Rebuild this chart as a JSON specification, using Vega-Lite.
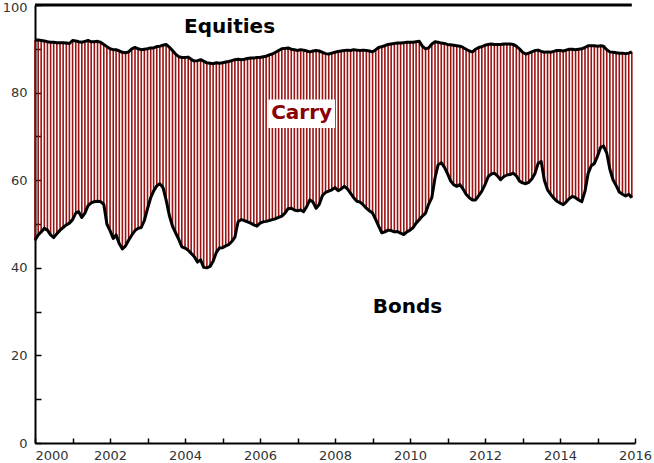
{
  "$schema": "https://vega.github.io/schema/vega-lite/v6.json",
  "width": 600,
  "height": 438,
  "autosize": {"type": "none"},
  "padding": {"left": 35, "top": 5, "right": 19, "bottom": 20},
  "background": "white",
  "config": {
    "view": {"stroke": null},
    "axis": {"grid": false, "labelFont": "DejaVu Sans", "labelFontSize": 13, "labelColor": "#333333", "domainColor": "#000000", "domainWidth": 2, "tickColor": "#000000", "tickWidth": 1.5, "title": null}
  },
  "datasets": {
    "series": [
      {"d":"2000-01-01","lo":46.3,"hi":92.0},{"d":"2000-02-01","lo":47.5,"hi":92.0},{"d":"2000-03-01","lo":48.2,"hi":91.9},{"d":"2000-04-01","lo":49.0,"hi":91.8},{"d":"2000-05-01","lo":48.6,"hi":91.6},{"d":"2000-06-01","lo":47.5,"hi":91.5},{"d":"2000-07-01","lo":46.9,"hi":91.5},{"d":"2000-08-01","lo":47.8,"hi":91.4},{"d":"2000-09-01","lo":48.6,"hi":91.4},{"d":"2000-10-01","lo":49.2,"hi":91.4},{"d":"2000-11-01","lo":49.8,"hi":91.3},{"d":"2000-12-01","lo":50.2,"hi":91.2},
      {"d":"2001-01-01","lo":51.0,"hi":91.9},{"d":"2001-02-01","lo":52.5,"hi":91.8},{"d":"2001-03-01","lo":52.8,"hi":91.6},{"d":"2001-04-01","lo":51.5,"hi":91.5},{"d":"2001-05-01","lo":52.5,"hi":91.7},{"d":"2001-06-01","lo":54.2,"hi":91.9},{"d":"2001-07-01","lo":54.8,"hi":91.6},{"d":"2001-08-01","lo":55.1,"hi":91.6},{"d":"2001-09-01","lo":55.2,"hi":91.7},{"d":"2001-10-01","lo":55.1,"hi":91.5},{"d":"2001-11-01","lo":54.5,"hi":91.0},{"d":"2001-12-01","lo":50.0,"hi":90.5},
      {"d":"2002-01-01","lo":48.5,"hi":90.0},{"d":"2002-02-01","lo":46.7,"hi":89.8},{"d":"2002-03-01","lo":47.5,"hi":89.8},{"d":"2002-04-01","lo":45.5,"hi":89.5},{"d":"2002-05-01","lo":44.3,"hi":89.2},{"d":"2002-06-01","lo":45.0,"hi":89.1},{"d":"2002-07-01","lo":46.3,"hi":89.3},{"d":"2002-08-01","lo":47.5,"hi":90.0},{"d":"2002-09-01","lo":48.5,"hi":90.3},{"d":"2002-10-01","lo":49.0,"hi":90.0},{"d":"2002-11-01","lo":49.2,"hi":89.8},{"d":"2002-12-01","lo":50.8,"hi":89.9},
      {"d":"2003-01-01","lo":53.5,"hi":90.0},{"d":"2003-02-01","lo":56.0,"hi":90.2},{"d":"2003-03-01","lo":57.5,"hi":90.2},{"d":"2003-04-01","lo":58.7,"hi":90.5},{"d":"2003-05-01","lo":59.2,"hi":90.6},{"d":"2003-06-01","lo":58.3,"hi":90.8},{"d":"2003-07-01","lo":55.5,"hi":91.0},{"d":"2003-08-01","lo":52.0,"hi":90.4},{"d":"2003-09-01","lo":49.5,"hi":89.6},{"d":"2003-10-01","lo":48.0,"hi":88.8},{"d":"2003-11-01","lo":46.5,"hi":88.2},{"d":"2003-12-01","lo":44.8,"hi":88.0},
      {"d":"2004-01-01","lo":44.5,"hi":88.0},{"d":"2004-02-01","lo":44.0,"hi":88.1},{"d":"2004-03-01","lo":43.3,"hi":87.6},{"d":"2004-04-01","lo":42.5,"hi":87.2},{"d":"2004-05-01","lo":41.3,"hi":87.3},{"d":"2004-06-01","lo":41.8,"hi":87.5},{"d":"2004-07-01","lo":40.1,"hi":87.2},{"d":"2004-08-01","lo":40.0,"hi":86.8},{"d":"2004-09-01","lo":40.3,"hi":86.7},{"d":"2004-10-01","lo":41.5,"hi":86.6},{"d":"2004-11-01","lo":43.5,"hi":86.8},{"d":"2004-12-01","lo":44.5,"hi":86.7},
      {"d":"2005-01-01","lo":44.6,"hi":86.8},{"d":"2005-02-01","lo":45.0,"hi":87.0},{"d":"2005-03-01","lo":45.3,"hi":87.1},{"d":"2005-04-01","lo":46.0,"hi":87.3},{"d":"2005-05-01","lo":47.0,"hi":87.5},{"d":"2005-06-01","lo":50.5,"hi":87.6},{"d":"2005-07-01","lo":51.0,"hi":87.5},{"d":"2005-08-01","lo":50.8,"hi":87.6},{"d":"2005-09-01","lo":50.5,"hi":87.8},{"d":"2005-10-01","lo":50.2,"hi":87.9},{"d":"2005-11-01","lo":49.8,"hi":87.9},{"d":"2005-12-01","lo":49.5,"hi":88.0},
      {"d":"2006-01-01","lo":50.2,"hi":88.0},{"d":"2006-02-01","lo":50.5,"hi":88.2},{"d":"2006-03-01","lo":50.6,"hi":88.3},{"d":"2006-04-01","lo":50.8,"hi":88.6},{"d":"2006-05-01","lo":51.0,"hi":88.8},{"d":"2006-06-01","lo":51.2,"hi":89.2},{"d":"2006-07-01","lo":51.5,"hi":89.6},{"d":"2006-08-01","lo":51.8,"hi":90.0},{"d":"2006-09-01","lo":52.5,"hi":90.1},{"d":"2006-10-01","lo":53.5,"hi":90.2},{"d":"2006-11-01","lo":53.6,"hi":89.9},{"d":"2006-12-01","lo":53.2,"hi":89.8},
      {"d":"2007-01-01","lo":53.0,"hi":89.6},{"d":"2007-02-01","lo":53.2,"hi":89.8},{"d":"2007-03-01","lo":52.8,"hi":89.7},{"d":"2007-04-01","lo":54.0,"hi":89.5},{"d":"2007-05-01","lo":55.5,"hi":89.3},{"d":"2007-06-01","lo":55.0,"hi":89.5},{"d":"2007-07-01","lo":53.6,"hi":89.6},{"d":"2007-08-01","lo":54.5,"hi":89.5},{"d":"2007-09-01","lo":56.5,"hi":89.2},{"d":"2007-10-01","lo":57.2,"hi":88.9},{"d":"2007-11-01","lo":57.5,"hi":88.8},{"d":"2007-12-01","lo":57.8,"hi":89.0},
      {"d":"2008-01-01","lo":58.3,"hi":89.2},{"d":"2008-02-01","lo":57.6,"hi":89.4},{"d":"2008-03-01","lo":58.0,"hi":89.5},{"d":"2008-04-01","lo":58.6,"hi":89.6},{"d":"2008-05-01","lo":58.0,"hi":89.7},{"d":"2008-06-01","lo":57.0,"hi":89.6},{"d":"2008-07-01","lo":56.0,"hi":89.8},{"d":"2008-08-01","lo":55.2,"hi":89.7},{"d":"2008-09-01","lo":55.0,"hi":89.6},{"d":"2008-10-01","lo":54.4,"hi":89.7},{"d":"2008-11-01","lo":53.6,"hi":89.6},{"d":"2008-12-01","lo":53.0,"hi":89.5},
      {"d":"2009-01-01","lo":52.5,"hi":89.3},{"d":"2009-02-01","lo":51.0,"hi":89.8},{"d":"2009-03-01","lo":49.5,"hi":90.3},{"d":"2009-04-01","lo":48.0,"hi":90.5},{"d":"2009-05-01","lo":48.2,"hi":90.7},{"d":"2009-06-01","lo":48.6,"hi":91.0},{"d":"2009-07-01","lo":48.5,"hi":91.1},{"d":"2009-08-01","lo":48.2,"hi":91.2},{"d":"2009-09-01","lo":48.3,"hi":91.3},{"d":"2009-10-01","lo":47.9,"hi":91.3},{"d":"2009-11-01","lo":47.6,"hi":91.4},{"d":"2009-12-01","lo":48.2,"hi":91.5},
      {"d":"2010-01-01","lo":48.6,"hi":91.5},{"d":"2010-02-01","lo":49.2,"hi":91.5},{"d":"2010-03-01","lo":50.2,"hi":91.6},{"d":"2010-04-01","lo":51.0,"hi":91.7},{"d":"2010-05-01","lo":51.8,"hi":90.6},{"d":"2010-06-01","lo":52.5,"hi":90.0},{"d":"2010-07-01","lo":54.5,"hi":90.2},{"d":"2010-08-01","lo":56.0,"hi":91.1},{"d":"2010-09-01","lo":60.5,"hi":91.6},{"d":"2010-10-01","lo":63.5,"hi":91.5},{"d":"2010-11-01","lo":64.0,"hi":91.3},{"d":"2010-12-01","lo":63.0,"hi":91.2},
      {"d":"2011-01-01","lo":61.5,"hi":91.0},{"d":"2011-02-01","lo":59.8,"hi":90.9},{"d":"2011-03-01","lo":59.0,"hi":90.8},{"d":"2011-04-01","lo":58.6,"hi":90.7},{"d":"2011-05-01","lo":59.0,"hi":90.6},{"d":"2011-06-01","lo":58.0,"hi":90.3},{"d":"2011-07-01","lo":56.8,"hi":89.9},{"d":"2011-08-01","lo":56.0,"hi":89.5},{"d":"2011-09-01","lo":55.5,"hi":89.3},{"d":"2011-10-01","lo":55.5,"hi":89.9},{"d":"2011-11-01","lo":56.5,"hi":90.3},{"d":"2011-12-01","lo":57.5,"hi":90.5},
      {"d":"2012-01-01","lo":59.0,"hi":90.8},{"d":"2012-02-01","lo":60.8,"hi":91.0},{"d":"2012-03-01","lo":61.4,"hi":91.1},{"d":"2012-04-01","lo":61.6,"hi":91.0},{"d":"2012-05-01","lo":61.0,"hi":91.0},{"d":"2012-06-01","lo":60.1,"hi":91.0},{"d":"2012-07-01","lo":60.8,"hi":91.1},{"d":"2012-08-01","lo":61.2,"hi":91.1},{"d":"2012-09-01","lo":61.3,"hi":91.1},{"d":"2012-10-01","lo":61.6,"hi":91.0},{"d":"2012-11-01","lo":61.0,"hi":90.6},{"d":"2012-12-01","lo":59.8,"hi":90.0},
      {"d":"2013-01-01","lo":59.4,"hi":89.2},{"d":"2013-02-01","lo":59.2,"hi":88.8},{"d":"2013-03-01","lo":59.5,"hi":89.0},{"d":"2013-04-01","lo":60.3,"hi":89.3},{"d":"2013-05-01","lo":61.5,"hi":89.6},{"d":"2013-06-01","lo":63.8,"hi":89.7},{"d":"2013-07-01","lo":64.3,"hi":89.4},{"d":"2013-08-01","lo":60.0,"hi":89.2},{"d":"2013-09-01","lo":57.8,"hi":89.3},{"d":"2013-10-01","lo":56.8,"hi":89.2},{"d":"2013-11-01","lo":55.9,"hi":89.4},{"d":"2013-12-01","lo":55.2,"hi":89.6},
      {"d":"2014-01-01","lo":54.8,"hi":89.6},{"d":"2014-02-01","lo":54.4,"hi":89.5},{"d":"2014-03-01","lo":55.0,"hi":89.7},{"d":"2014-04-01","lo":55.8,"hi":89.9},{"d":"2014-05-01","lo":56.3,"hi":89.9},{"d":"2014-06-01","lo":56.0,"hi":89.8},{"d":"2014-07-01","lo":55.5,"hi":89.9},{"d":"2014-08-01","lo":55.1,"hi":90.0},{"d":"2014-09-01","lo":57.5,"hi":90.3},{"d":"2014-10-01","lo":61.5,"hi":90.7},{"d":"2014-11-01","lo":63.3,"hi":90.7},{"d":"2014-12-01","lo":63.8,"hi":90.7},
      {"d":"2015-01-01","lo":65.5,"hi":90.6},{"d":"2015-02-01","lo":67.5,"hi":90.7},{"d":"2015-03-01","lo":67.8,"hi":90.6},{"d":"2015-04-01","lo":66.2,"hi":89.8},{"d":"2015-05-01","lo":62.5,"hi":89.3},{"d":"2015-06-01","lo":60.1,"hi":89.2},{"d":"2015-07-01","lo":58.8,"hi":89.1},{"d":"2015-08-01","lo":57.3,"hi":89.0},{"d":"2015-09-01","lo":56.8,"hi":89.0},{"d":"2015-10-01","lo":56.4,"hi":88.9},{"d":"2015-11-01","lo":56.8,"hi":89.0},{"d":"2015-12-01","lo":56.0,"hi":89.3}
    ],
    "labels": [
      {"d":"2005-03-10","v":93.6,"text":"Equities","kind":"outer"},
      {"d":"2007-02-10","v":74.0,"text":"Carry","kind":"carry"},
      {"d":"2009-12-06","v":29.7,"text":"Bonds","kind":"outer"}
    ],
    "box": [
      {"d":"2006-03-21","d2":"2008-01-01","v":78.4,"v2":71.9}
    ]
  },
  "encoding": {
    "x": {
      "field": "d", "type": "temporal",
      "scale": {"type": "utc", "domain": [{"year":2000,"month":1,"date":1,"utc":true},{"year":2016,"month":1,"date":1,"utc":true}]},
      "axis": {
        "title": null,
        "values": [{"year":2000,"utc":true},{"year":2001,"utc":true},{"year":2002,"utc":true},{"year":2003,"utc":true},{"year":2004,"utc":true},{"year":2005,"utc":true},{"year":2006,"utc":true},{"year":2007,"utc":true},{"year":2008,"utc":true},{"year":2009,"utc":true},{"year":2010,"utc":true},{"year":2011,"utc":true},{"year":2012,"utc":true},{"year":2013,"utc":true},{"year":2014,"utc":true},{"year":2015,"utc":true},{"year":2016,"utc":true}],
        "labelExpr": "utcyear(datum.value) % 2 == 0 ? utcFormat(datum.value, '%Y') : ''",
        "labelAlign": {"condition": {"test": "utcyear(datum.value) == 2000", "value": "left"}, "value": "center"},
        "labelBaseline": "top",
        "tickSize": -5,
        "labelPadding": 11,
        "labelBound": false,
        "encode": {"ticks": {"update": {"y2": {"signal": "utcyear(datum.value) % 2 == 0 ? -5 : -3"}}}}
      }
    }
  },
  "layer": [
    {
      "data": {"name": "series"},
      "mark": {"type": "rule", "color": "#9a1212", "strokeWidth": 1.6},
      "encoding": {
        "y": {
          "field": "lo", "type": "quantitative",
          "scale": {"domain": [0, 100], "nice": false},
          "axis": {
            "title": null,
            "values": [0,10,20,30,40,50,60,70,80,90,100],
            "labelExpr": "datum.value % 20 == 0 ? datum.label : ''",
            "labelOffset": {"condition": {"test": "datum.value == 100", "value": 2}, "value": 0},
            "tickSize": -6,
            "labelPadding": 14,
            "encode": {"ticks": {"update": {"x2": {"signal": "datum.value % 20 == 0 ? 6 : 3"}}}}
          }
        },
        "y2": {"field": "hi"}
      }
    },
    {
      "data": {"name": "box"},
      "mark": {"type": "rect", "fill": "#ffffff"},
      "encoding": {
        "x2": {"field": "d2"},
        "y": {"field": "v", "type": "quantitative", "title": null},
        "y2": {"field": "v2"}
      }
    },
    {
      "data": {"name": "labels"},
      "transform": [{"filter": "datum.kind == 'carry'"}],
      "mark": {"type": "text", "font": "DejaVu Sans", "fontWeight": "bold", "fontSize": 20, "color": "#8b0000", "align": "center", "baseline": "alphabetic"},
      "encoding": {
        "y": {"field": "v", "type": "quantitative", "title": null},
        "text": {"field": "text"}
      }
    },
    {
      "data": {"name": "series"},
      "mark": {"type": "line", "color": "#000000", "strokeWidth": 3, "strokeJoin": "round"},
      "encoding": {"y": {"field": "lo", "type": "quantitative", "title": null}}
    },
    {
      "data": {"name": "series"},
      "mark": {"type": "line", "color": "#000000", "strokeWidth": 3, "strokeJoin": "round"},
      "encoding": {"y": {"field": "hi", "type": "quantitative", "title": null}}
    },
    {
      "data": {"name": "series"},
      "mark": {"type": "line", "color": "#000000", "strokeWidth": 3},
      "encoding": {"y": {"datum": 100, "type": "quantitative", "title": null}}
    },
    {
      "data": {"name": "labels"},
      "transform": [{"filter": "datum.kind == 'outer'"}],
      "mark": {"type": "text", "font": "DejaVu Sans", "fontWeight": "bold", "fontSize": 20, "color": "#000000", "align": "center", "baseline": "alphabetic"},
      "encoding": {
        "y": {"field": "v", "type": "quantitative", "title": null},
        "text": {"field": "text"}
      }
    }
  ]
}
